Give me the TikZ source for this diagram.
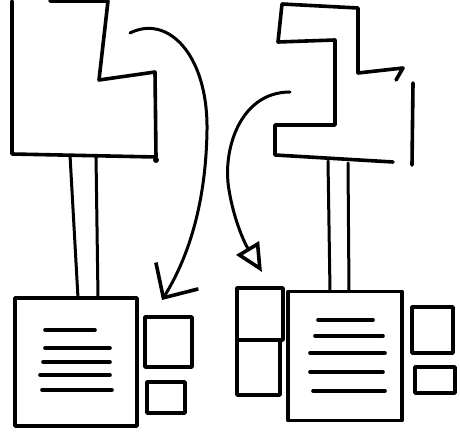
\documentclass[tikz,border=0pt]{standalone}
\usetikzlibrary{arrows.meta,positioning}

\begin{document}
\begin{tikzpicture}[
  x=1pt, y=-1pt, line width=3.6pt, line join=round, line cap=round,
  panel/.style={draw, inner sep=0pt, outer sep=0pt},
  swing/.style={line width=3pt},
]
\useasboundingbox (0,0) rectangle (460,446);

% left: stepped block, stems and page
\draw (12,1) -- (12,154) -- (156,157) -- (155,72) -- (99,80) -- (108,1) -- (50,1);
\fill (156,160) circle (3pt);
\node[panel, minimum width=122pt, minimum height=128pt] (docL) at (76,362) {};
\node[panel, minimum width=47pt, minimum height=50pt] (tabLa) at (168.5,342) {};
\node[panel, minimum width=38pt, minimum height=31pt] (tabLb) at (166,397.5) {};
\coordinate (stemLa) at (70,155);
\coordinate (stemLb) at (96,156);
\draw[swing] (stemLa) -- (78,298);
\draw[swing] (stemLb) -- (98,298);
\foreach \y/\xa/\xb in {330/45/95, 348/45/110, 362/43/110, 375/40/110, 390/42/112}
  \draw (\xa,\y) -- (\xb,\y);

% right: stepped block, stems and page
\draw (396,80) -- (403,68) -- (358,73) -- (358,8) -- (282,4) -- (278,42)
  -- (335,40) -- (335,125) -- (275,125) -- (275,155) -- (393,162);
\draw (413,83) -- (412,165);
\node[panel, minimum width=114pt, minimum height=129pt] (docR) at (345,356) {};
\node[panel, minimum width=46pt, minimum height=52pt] (tabRa) at (260,314) {};
\node[panel, minimum width=43pt, minimum height=55pt] (tabRb) at (258.5,367.5) {};
\node[panel, minimum width=41pt, minimum height=46pt] (tabRc) at (432.5,330) {};
\node[panel, minimum width=40pt, minimum height=26pt] (tabRd) at (435,380) {};
\coordinate (stemRa) at (328,161);
\coordinate (stemRb) at (348,163);
\draw[swing] (stemRa) -- (330,291);
\draw[swing] (stemRb) -- (349,291);
\foreach \y/\xa/\xb in {320/318/373, 336/315/383, 353/310/385, 372/310/383, 391/313/385}
  \draw (\xa,\y) -- (\xb,\y);

% arrows
\coordinate (fromL) at (130,33);
\coordinate (toL) at (162,300);
\coordinate (fromR) at (290,92);
\coordinate (toR) at (262,272);
\draw[swing, -{Straight Barb[length=26pt, width=50pt, line width=3.6pt]}]
  (fromL) .. controls (168,14) and (208,55) .. (207,130)
  .. controls (206,200) and (190,255) .. (toL);
\draw[swing, -{Triangle[open, length=28pt, width=26pt, line width=3.6pt]}]
  (fromR) .. controls (240,92) and (222,150) .. (229,190)
  .. controls (234,220) and (244,242) .. (toR);
\end{tikzpicture}
\end{document}
